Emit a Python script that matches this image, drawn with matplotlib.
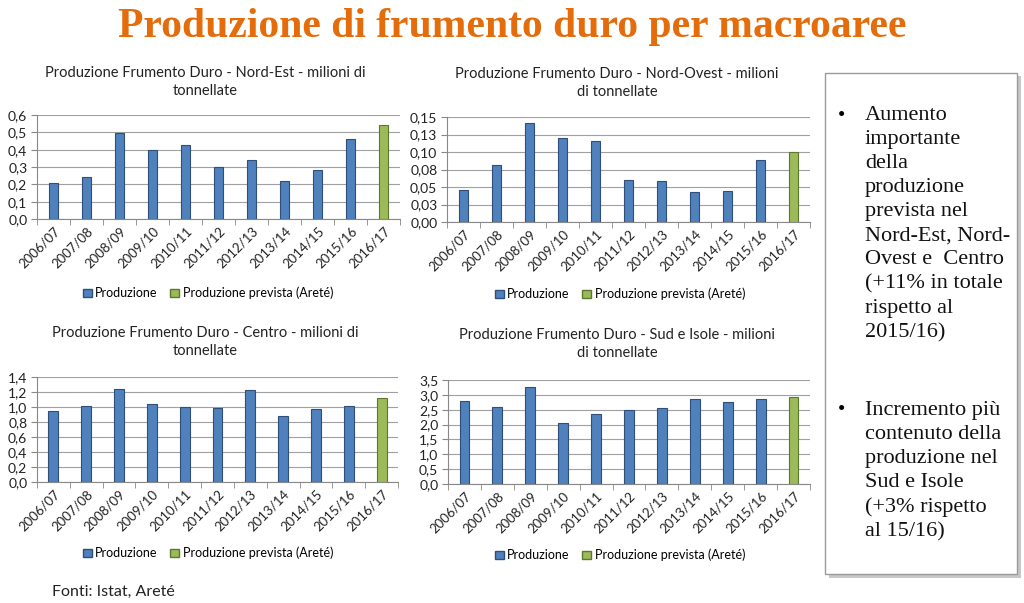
import matplotlib
matplotlib.use("Agg")
import matplotlib.pyplot as plt
from matplotlib.patches import Patch, Rectangle
import numpy as np

categories = ["2006/07", "2007/08", "2008/09", "2009/10", "2010/11", "2011/12",
              "2012/13", "2013/14", "2014/15", "2015/16", "2016/17"]

nord_est = [0.207, 0.245, 0.494, 0.398, 0.427, 0.299, 0.341, 0.222, 0.280, 0.464, 0.540]
nord_ovest = [0.046, 0.082, 0.141, 0.120, 0.116, 0.060, 0.058, 0.043, 0.045, 0.089, 0.100]
centro = [0.947, 1.009, 1.240, 1.044, 1.004, 0.982, 1.222, 0.876, 0.969, 1.018, 1.124]
sud_isole = [2.81, 2.595, 3.255, 2.058, 2.37, 2.48, 2.55, 2.85, 2.77, 2.85, 2.93]

ne_ticks = [0.0, 0.1, 0.2, 0.3, 0.4, 0.5, 0.6]
no_ticks = [0.0, 0.025, 0.05, 0.075, 0.10, 0.125, 0.15]
no_tick_labels = ["0,00", "0,03", "0,05", "0,08", "0,10", "0,13", "0,15"]
c_ticks = [0.0, 0.2, 0.4, 0.6, 0.8, 1.0, 1.2, 1.4]
s_ticks = [0.0, 0.5, 1.0, 1.5, 2.0, 2.5, 3.0, 3.5]

titles = ["Produzione Frumento Duro - Nord-Est - milioni di\ntonnellate",
          "Produzione Frumento Duro - Nord-Ovest - milioni\ndi tonnellate",
          "Produzione Frumento Duro - Centro - milioni di\ntonnellate",
          "Produzione Frumento Duro - Sud e Isole - milioni\ndi tonnellate"]
legend_labels = ["Produzione", "Produzione prevista (Areté)"]

BLUE, BLUE_E = "#4F81BD", "#2F4F7A"
GREEN, GREEN_E = "#9BBB59", "#5E7730"
SANS = ["Lato", "DejaVu Sans"]

W, H = 1024, 603
fig = plt.figure(figsize=(W / 100, H / 100), dpi=100)
fig.patch.set_facecolor("white")

def fx(x):
    return x / W

def fy(y):
    return 1 - y / H

# main title
fig.text(fx(512), fy(27), "Produzione di frumento duro per macroaree",
         ha="center", va="center", fontsize=30, fontweight="bold",
         color="#E46C0A", family=["Liberation Serif", "DejaVu Serif"])

panels = [
    # (data, ticks, labels, x0, x1, ytop, ybot, title_center, title_y, legend_y)
    (nord_est, ne_ticks, [f"{t:.1f}".replace(".", ",") for t in ne_ticks], 37, 400, 115, 219, 205, 82, 293),
    (nord_ovest, no_ticks, no_tick_labels, 447, 810, 117, 222, 617, 83, 294),
    (centro, c_ticks, [f"{t:.1f}".replace(".", ",") for t in c_ticks], 37, 398, 377, 482, 205, 342, 553),
    (sud_isole, s_ticks, [f"{t:.1f}".replace(".", ",") for t in s_ticks], 448, 810, 380, 484, 617, 344, 555),
]

x = np.arange(len(categories))
for (data, ticks, tlabels, x0, x1, yt, yb, tc, ty, ly), title in zip(panels, titles):
    ax = fig.add_axes([fx(x0), fy(yb), (x1 - x0) / W, (yb - yt) / H])
    colors = [BLUE] * (len(data) - 1) + [GREEN]
    edges = [BLUE_E] * (len(data) - 1) + [GREEN_E]
    ax.bar(x, data, width=0.3, color=colors, edgecolor=edges, linewidth=0.8, zorder=3)
    ax.set_xlim(-0.5, len(categories) - 0.5)
    ax.set_ylim(ticks[0], ticks[-1])
    ax.set_yticks(ticks)
    ax.set_yticklabels(tlabels, fontsize=10, family=SANS, color="#222222")
    ax.set_xticks(x)
    ax.set_xticklabels(categories, rotation=45, ha="right", rotation_mode="anchor",
                       fontsize=9.5, family=SANS, color="#222222")
    ax.tick_params(axis="x", which="major", length=0, pad=4)
    ax.set_xticks(np.arange(-0.5, len(categories) + 0.5, 1), minor=True)
    ax.tick_params(axis="x", which="minor", length=4, color="#888888", direction="out")
    ax.tick_params(axis="y", length=4, color="#888888", direction="out", pad=3)
    ax.grid(axis="y", color="#A0A0A0", linewidth=0.8, zorder=0)
    for s in ["top", "right"]:
        ax.spines[s].set_visible(False)
    ax.spines["left"].set_color("#888888")
    ax.spines["bottom"].set_color("#888888")
    fig.text(fx(tc), fy(ty), title, ha="center", va="center", fontsize=10.5,
             family=SANS, color="#222222", linespacing=1.4)
    handles = [Patch(facecolor=BLUE, edgecolor=BLUE_E), Patch(facecolor=GREEN, edgecolor=GREEN_E)]
    ax.legend(handles, legend_labels, loc="center", bbox_to_anchor=(fx(tc + 3), fy(ly)),
              bbox_transform=fig.transFigure, ncol=2, frameon=False,
              handlelength=0.7, handleheight=0.7, handletextpad=0.3, columnspacing=1.0,
              prop={"family": SANS, "size": 9})

# text box on the right
shadow = Rectangle((fx(829), fy(578)), (1021 - 829) / W, (578 - 76) / H,
                   transform=fig.transFigure, facecolor="#C8C8C8", edgecolor="none", zorder=1)
box = Rectangle((fx(825), fy(574)), (1017 - 825) / W, (574 - 73) / H,
                transform=fig.transFigure, facecolor="white", edgecolor="#9A9A9A",
                linewidth=1.0, zorder=2)
fig.add_artist(shadow)
fig.add_artist(box)

SERIF = ["Liberation Serif", "DejaVu Serif"]
bullet1 = "Aumento\nimportante\ndella\nproduzione\nprevista nel\nNord-Est, Nord-\nOvest e  Centro\n(+11% in totale\nrispetto al\n2015/16)"
bullet2 = "Incremento più\ncontenuto della\nproduzione nel\nSud e Isole\n(+3% rispetto\nal 15/16)"
fig.text(fx(838), fy(116), "•", ha="left", va="center", fontsize=15, family=SERIF, zorder=3)
fig.text(fx(865), fy(106), bullet1, ha="left", va="top", fontsize=16, family=SERIF,
         color="#111111", linespacing=1.36, zorder=3)
fig.text(fx(838), fy(411), "•", ha="left", va="center", fontsize=15, family=SERIF, zorder=3)
fig.text(fx(865), fy(401), bullet2, ha="left", va="top", fontsize=16, family=SERIF,
         color="#111111", linespacing=1.36, zorder=3)

fig.text(fx(52), fy(592), "Fonti: Istat, Areté", ha="left", va="center", fontsize=11.5,
         family=SANS, color="#222222")

fig.savefig("out.png", dpi=100)
